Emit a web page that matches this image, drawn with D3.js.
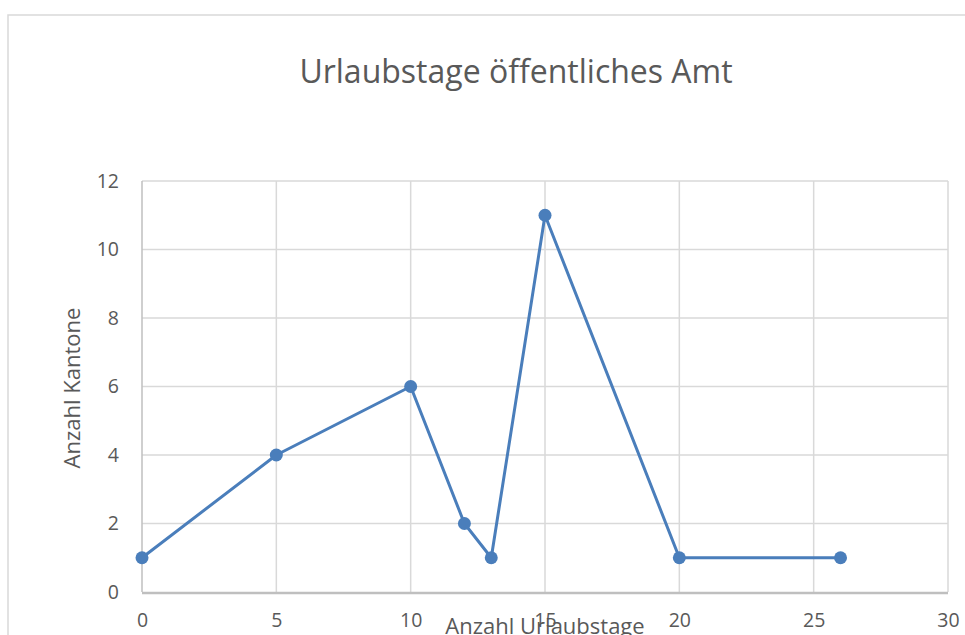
<!DOCTYPE html>
<html>
  <head>
    <meta charset="utf-8">
    <script src="https://d3js.org/d3.v7.min.js"></script>
    <style>
      body { margin: 0px; background: #fff; }
      text { font-family: "Open Sans", "Liberation Sans", sans-serif; fill: #595959; }
      .grid line { stroke: #d9d9d9; stroke-width: 1.5px; }
      .axis .domain { display: none; }
      .axis .tick line { display: none; }
      .axis .tick text { font-size: 19.5px; fill: #595959; font-family: "Open Sans", "Liberation Sans", sans-serif; }
    </style>
  </head>
  <body>
    <svg width="965" height="635"></svg>
    <script>
      // Anzahl Urlaubstage vs. Anzahl Kantone
      var tage = [0, 5, 10, 12, 13, 15, 20, 26];
      var kantone = [1, 4, 6, 2, 1, 11, 1, 1];
      var xTicks = [0, 5, 10, 15, 20, 25, 30];
      var yTicks = [0, 2, 4, 6, 8, 10, 12];

      var data = tage.map((t, i) => ({ x: t, y: kantone[i] }));

      var svg = d3.select('svg');
      var margin = { left: 142, right: 17, top: 181, bottom: 43 };
      var width = +svg.attr('width'), height = +svg.attr('height');

      // chart frame
      svg.append('rect')
        .attr('x', 8).attr('y', 15)
        .attr('width', 1000).attr('height', 700)
        .attr('fill', 'none')
        .attr('stroke', '#d9d9d9')
        .attr('stroke-width', 1.5);

      var xScale = d3.scaleLinear().domain([0, 30]).range([margin.left, width - margin.right]);
      var yScale = d3.scaleLinear().domain([0, 12]).range([height - margin.bottom, margin.top]);

      var grid = svg.append('g').attr('class', 'grid');
      grid.selectAll('.v').data(xTicks.slice(1)).enter().append('line')
        .attr('x1', d => xScale(d)).attr('x2', d => xScale(d))
        .attr('y1', yScale(0)).attr('y2', yScale(12));
      grid.selectAll('.h').data(yTicks.slice(1)).enter().append('line')
        .attr('x1', xScale(0)).attr('x2', xScale(30))
        .attr('y1', d => yScale(d)).attr('y2', d => yScale(d));

      // axis lines
      svg.append('line')
        .attr('x1', xScale(0)).attr('x2', xScale(30))
        .attr('y1', yScale(0) + 1).attr('y2', yScale(0) + 1)
        .attr('stroke', '#bfbfbf').attr('stroke-width', 2.5);
      svg.append('line')
        .attr('x1', xScale(0)).attr('x2', xScale(0))
        .attr('y1', yScale(0)).attr('y2', yScale(12))
        .attr('stroke', '#bfbfbf').attr('stroke-width', 1.5);

      var xAxis = d3.axisBottom(xScale).tickValues(xTicks).tickSize(0).tickPadding(21);
      svg.append('g').attr('class', 'axis')
        .attr('transform', `translate(0,${yScale(0)})`)
        .call(xAxis);

      var yAxis = d3.axisLeft(yScale).tickValues(yTicks).tickSize(0).tickPadding(23);
      svg.append('g').attr('class', 'axis')
        .attr('transform', `translate(${xScale(0)},0)`)
        .call(yAxis);

      var line = d3.line().x(d => xScale(d.x)).y(d => yScale(d.y));
      svg.append('path')
        .datum(data)
        .attr('d', line)
        .attr('fill', 'none')
        .attr('stroke', '#4a7ebb')
        .attr('stroke-width', 3)
        .attr('stroke-linejoin', 'round');

      svg.selectAll('circle').data(data).enter().append('circle')
        .attr('cx', d => xScale(d.x))
        .attr('cy', d => yScale(d.y))
        .attr('r', 6.5)
        .attr('fill', '#4a7ebb');

      svg.append('text')
        .attr('x', 516).attr('y', 83)
        .attr('text-anchor', 'middle')
        .style('font-size', '32px')
        .text('Urlaubstage öffentliches Amt');

      svg.append('text')
        .attr('x', 545).attr('y', 634)
        .attr('text-anchor', 'middle')
        .style('font-size', '22px')
        .text('Anzahl Urlaubstage');

      svg.append('text')
        .attr('transform', 'translate(80,388) rotate(-90)')
        .attr('text-anchor', 'middle')
        .style('font-size', '22px')
        .text('Anzahl Kantone');
    </script>
  </body>
</html>
